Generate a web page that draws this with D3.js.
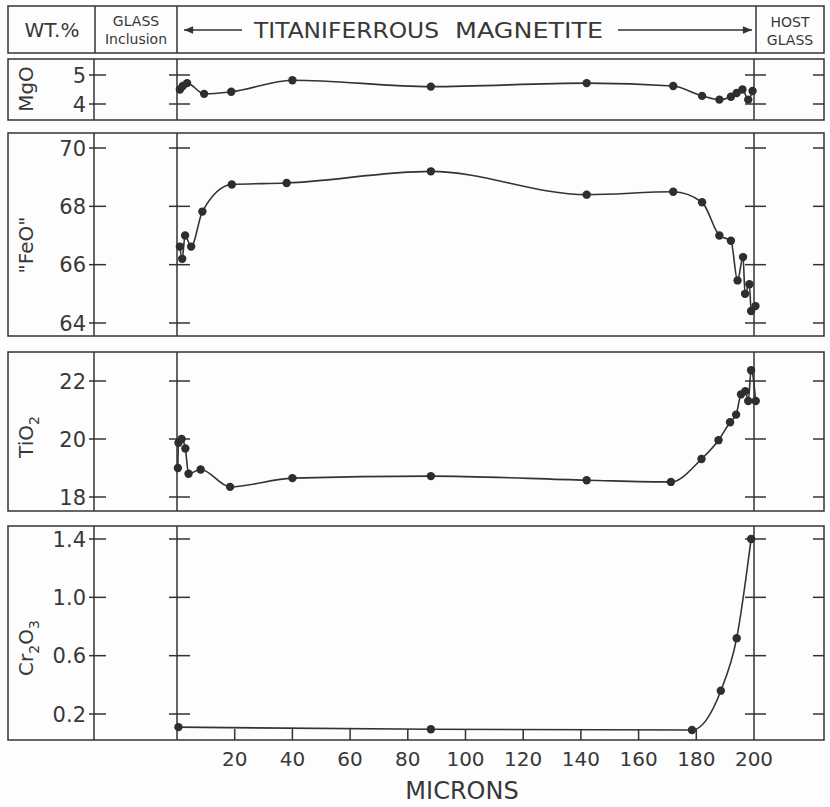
<html>
<head>
  <script src="https://cdn.jsdelivr.net/npm/d3@7"></script>
  <style>
    body { margin: 0; background: #ffffff; }
    text { font-family: "DejaVu Sans", sans-serif; fill: #383838; }
  </style>
</head>
<body>
<svg id="chart" width="830" height="807"></svg>
<script>
// distance from the glass inclusion (microns) and analyses
const mgoMicrons = [1, 2, 3.5, 9.4, 18.8, 40, 88, 142, 172, 182, 188, 192, 194, 196, 198, 199.5];
const mgoValues  = [4.5, 4.62, 4.72, 4.35, 4.42, 4.82, 4.6, 4.72, 4.62, 4.28, 4.15, 4.25, 4.38, 4.5, 4.15, 4.45];

const feoMicrons = [1.0, 1.8, 2.8, 4.9, 8.8, 19, 38, 88, 142, 172, 182, 188, 192, 194.3, 196.2, 196.9, 198.4, 199, 200.5];
const feoValues  = [66.62, 66.2, 67.0, 66.62, 67.82, 68.75, 68.8, 69.2, 68.4, 68.5, 68.14, 67.0, 66.82, 65.46, 66.26, 65.0, 65.33, 64.41, 64.58];

const tioMicrons = [0.3, 0.5, 1.6, 2.9, 4.0, 8.2, 18.4, 40, 88, 142, 171.2, 181.8, 187.7, 191.7, 193.8, 195.5, 197, 198, 199, 200.6];
const tioValues  = [19.0, 19.87, 20.0, 19.67, 18.8, 18.95, 18.35, 18.65, 18.72, 18.58, 18.52, 19.31, 19.96, 20.58, 20.84, 21.54, 21.65, 21.31, 22.37, 21.31];

const crMicrons = [0.5, 88, 178.5, 188.5, 194, 199];
const crValues  = [0.11, 0.095, 0.09, 0.36, 0.72, 1.40];

const mgoTicks = [4, 5];
const feoTicks = [64, 66, 68, 70];
const tioTicks = [18, 20, 22];
const crTicks  = [0.2, 0.6, 1.0, 1.4];
const xTicks   = [20, 40, 60, 80, 100, 120, 140, 160, 180, 200];

let svg = d3.select("svg#chart");
const ink = "#333";
const boxLeft = 8, boxRight = 824, axisLeft = 94;

let xscale = d3.scaleLinear().domain([0, 200]).range([177, 754]);

svg.append("rect").attr("width", 830).attr("height", 807).style("fill", "#fdfdfd");

// ---- header strip
svg.append("rect")
   .attr("x", boxLeft).attr("y", 6).attr("width", boxRight - boxLeft).attr("height", 47)
   .style("fill", "none").style("stroke", ink).style("stroke-width", 1.5);
[95, xscale(0), xscale(200) + 2].forEach(x => {
  svg.append("line").attr("x1", x).attr("x2", x).attr("y1", 6).attr("y2", 53)
     .style("stroke", ink).style("stroke-width", 1.5);
});

svg.append("text").text("WT.%").attr("x", 52).attr("y", 37)
   .style("font-size", "20px").style("text-anchor", "middle");
svg.append("text").text("GLASS").attr("x", 136).attr("y", 26)
   .style("font-size", "14px").style("text-anchor", "middle");
svg.append("text").text("Inclusion").attr("x", 136).attr("y", 44)
   .style("font-size", "14px").style("text-anchor", "middle");
svg.append("text").text("HOST").attr("x", 790).attr("y", 27)
   .style("font-size", "14px").style("text-anchor", "middle");
svg.append("text").text("GLASS").attr("x", 790).attr("y", 45)
   .style("font-size", "14px").style("text-anchor", "middle");

svg.append("text").text("TITANIFERROUS").attr("x", 254).attr("y", 38)
   .attr("textLength", 185).attr("lengthAdjust", "spacingAndGlyphs")
   .style("font-size", "21px");
svg.append("text").text("MAGNETITE").attr("x", 455).attr("y", 38)
   .attr("textLength", 148).attr("lengthAdjust", "spacingAndGlyphs")
   .style("font-size", "21px");

svg.append("defs").append("marker")
   .attr("id", "head").attr("viewBox", "0 0 10 10").attr("refX", 10).attr("refY", 5)
   .attr("markerWidth", 9).attr("markerHeight", 7).attr("orient", "auto")
   .append("path").attr("d", "M0,1 L10,5 L0,9 Z").style("fill", ink);
svg.append("line").attr("x1", 242).attr("x2", 184).attr("y1", 30).attr("y2", 30)
   .style("stroke", ink).style("stroke-width", 1.3).attr("marker-end", "url(#head)");
svg.append("line").attr("x1", 618).attr("x2", 752).attr("y1", 30).attr("y2", 30)
   .style("stroke", ink).style("stroke-width", 1.3).attr("marker-end", "url(#head)");

// ---- the four composition panels
const panels = [
  {parts: [["MgO", 0]], microns: mgoMicrons, values: mgoValues, ticks: mgoTicks,
   top: 59, bottom: 120, domain: [4, 5], range: [104, 75], fmt: d3.format("d"), labelY: 89},
  {parts: [["\"FeO\"", 0]], microns: feoMicrons, values: feoValues, ticks: feoTicks,
   top: 133, bottom: 336, domain: [64, 70], range: [323, 148], fmt: d3.format("d"), labelY: 245},
  {parts: [["TiO", 0], ["2", 1]], microns: tioMicrons, values: tioValues, ticks: tioTicks,
   top: 352, bottom: 511, domain: [18, 22], range: [497, 381], fmt: d3.format("d"), labelY: 437},
  {parts: [["Cr", 0], ["2", 1], ["O", 0], ["3", 1]], microns: crMicrons, values: crValues, ticks: crTicks,
   top: 526, bottom: 740, domain: [0.2, 1.4], range: [714, 539], fmt: d3.format(".1f"), labelY: 648}
];

panels.forEach(p => {
  let yscale = d3.scaleLinear().domain(p.domain).range(p.range);

  svg.append("rect")
     .attr("x", boxLeft).attr("y", p.top).attr("width", boxRight - boxLeft).attr("height", p.bottom - p.top)
     .style("fill", "none").style("stroke", ink).style("stroke-width", 1.5);
  [axisLeft, xscale(0), xscale(200)].forEach(x => {
    svg.append("line").attr("x1", x).attr("x2", x).attr("y1", p.top).attr("y2", p.bottom)
       .style("stroke", ink).style("stroke-width", 1.5);
  });

  p.ticks.forEach(t => {
    let y = yscale(t);
    [[axisLeft - 5, axisLeft + 12], [xscale(0) - 8, xscale(0) + 13],
     [xscale(200) - 9, xscale(200) + 12], [boxRight - 11, boxRight]].forEach(seg => {
      svg.append("line").attr("x1", seg[0]).attr("x2", seg[1]).attr("y1", y).attr("y2", y)
         .style("stroke", ink).style("stroke-width", 1.5);
    });
    svg.append("text").text(p.fmt(t))
       .attr("x", 86).attr("y", y)
       .attr("dy", "0.36em")
       .style("font-size", "21px").style("text-anchor", "end");
  });

  // rotated panel label, with subscripts
  let lab = svg.append("text")
     .attr("transform", "translate(33," + p.labelY + ") rotate(-90)")
     .attr("dy", "0.36em")
     .style("font-size", "20px").style("text-anchor", "middle");
  p.parts.forEach(part => {
    lab.append("tspan").text(part[0])
       .attr("dy", part[1] ? 6 : (lab.selectAll("tspan").size() > 1 ? -6 : 0))
       .style("font-size", part[1] ? "14px" : "20px");
  });

  let pts = p.microns.map((m, i) => [m, p.values[i]]);
  let line = d3.line()
               .x(d => xscale(d[0]))
               .y(d => yscale(d[1]))
               .curve(d3.curveMonotoneX);
  svg.append("path").attr("d", line(pts))
     .style("fill", "none").style("stroke", ink).style("stroke-width", 1.6);

  pts.forEach(d => {
    svg.append("circle")
       .attr("r", 4.2)
       .attr("cx", xscale(d[0]))
       .attr("cy", yscale(d[1]))
       .style("fill", "#2e2e2e");
  });
});

// ---- micron axis along the bottom panel
const last = panels[panels.length - 1];
xTicks.forEach(t => {
  if (t < 200) {
    svg.append("line").attr("x1", xscale(t)).attr("x2", xscale(t))
       .attr("y1", last.bottom - 11).attr("y2", last.bottom)
       .style("stroke", ink).style("stroke-width", 1.5);
  }
  svg.append("text").text(t)
     .attr("x", xscale(t)).attr("y", 766)
     .style("font-size", "20px").style("text-anchor", "middle");
});

svg.append("text").text("MICRONS")
   .attr("x", 462).attr("y", 799)
   .style("font-size", "24px").style("text-anchor", "middle");
</script>
</body>
</html>
